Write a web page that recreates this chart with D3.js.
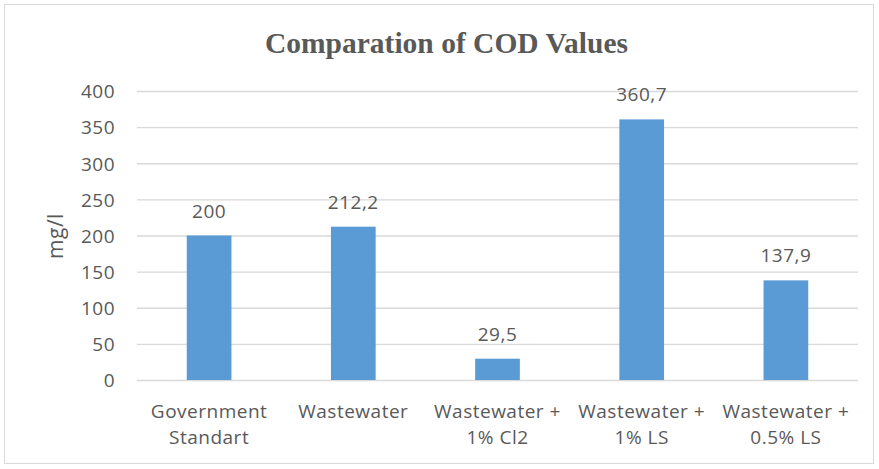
<!DOCTYPE html>
<html>
<head>
<meta charset="utf-8">
<script src="https://cdn.jsdelivr.net/npm/d3@7"></script>
<style>
  body { margin: 0; background: #fff; }
  svg text { font-family: "Open Sans", "Noto Sans", sans-serif; fill: #595959; letter-spacing: 0.5px; }
</style>
</head>
<body>
<svg width="879" height="469"></svg>
<script>
// chart data
var categories = [
  ["Government", "Standart"],
  ["Wastewater"],
  ["Wastewater +", "1% Cl2"],
  ["Wastewater +", "1% LS"],
  ["Wastewater +", "0.5% LS"]
];
var values = [200, 212.2, 29.5, 360.7, 137.9];
var valueLabels = ["200", "212,2", "29,5", "360,7", "137,9"];
var yTicks = [0, 50, 100, 150, 200, 250, 300, 350, 400];

var svg = d3.select("svg"),
  margin = {top: 91, right: 21, bottom: 89, left: 137},
  width = svg.attr("width") - margin.left - margin.right,
  height = svg.attr("height") - margin.top - margin.bottom;

// outer frame
svg.append("rect")
  .attr("x", 4.5).attr("y", 4.5)
  .attr("width", 869).attr("height", 459)
  .attr("fill", "#fff")
  .attr("stroke", "#d9d9d9");

var g = svg.append("g").attr("transform", "translate(" + margin.left + "," + margin.top + ")");

var x = d3.scaleBand().domain(d3.range(categories.length)).range([0, width]).paddingInner(0.69).paddingOuter(0.345),
  y = d3.scaleLinear().domain([0, 400]).range([height, 0]);

// grid lines
g.selectAll("line.grid")
  .data(yTicks)
  .enter().append("line")
  .attr("class", "grid")
  .attr("x1", 0).attr("x2", width)
  .attr("y1", d => y(d) + 0.5).attr("y2", d => y(d) + 0.5)
  .attr("stroke", "#d9d9d9")
  .attr("stroke-width", 1.3);

// y axis labels
var yAxis = g.append("g")
  .call(d3.axisLeft(y).tickValues(yTicks).tickSize(0).tickPadding(22));
yAxis.select(".domain").remove();
yAxis.selectAll("text")
  .style("font-size", "19px")
  .style("font-family", "'Open Sans', sans-serif")
  .attr("fill", "#595959")
  .attr("dy", "0.36em");

// bars
g.selectAll("rect.bar")
  .data(values)
  .enter().append("rect")
  .attr("class", "bar")
  .attr("x", (d, i) => x(i))
  .attr("width", x.bandwidth())
  .attr("y", d => y(d))
  .attr("height", d => height - y(d))
  .attr("fill", "#5b9bd5");

// value labels
g.selectAll("text.val")
  .data(values)
  .enter().append("text")
  .attr("class", "val")
  .attr("x", (d, i) => x(i) + x.bandwidth() / 2)
  .attr("y", d => y(d) - 18)
  .attr("text-anchor", "middle")
  .style("font-size", "19px")
  .text((d, i) => valueLabels[i]);

// category labels
var cat = g.selectAll("text.cat")
  .data(categories)
  .enter().append("text")
  .attr("class", "cat")
  .attr("x", (d, i) => x(i) + x.bandwidth() / 2)
  .attr("y", height + 38)
  .attr("text-anchor", "middle")
  .style("font-size", "19px");
cat.selectAll("tspan")
  .data(d => d)
  .enter().append("tspan")
  .attr("x", function() { return this.parentNode.getAttribute("x"); })
  .attr("dy", (d, i) => i ? 26 : 0)
  .text(d => d);

// axis title
svg.append("text")
  .attr("transform", "translate(63,236) rotate(-90)")
  .attr("text-anchor", "middle")
  .style("font-size", "21px")
  .text("mg/l");

// chart title
svg.append("text")
  .attr("x", 446.5)
  .attr("y", 53)
  .attr("text-anchor", "middle")
  .attr("textLength", 363)
  .attr("lengthAdjust", "spacingAndGlyphs")
  .style("font-family", "'Liberation Serif', 'Times New Roman', serif")
  .style("font-weight", "bold")
  .style("letter-spacing", "0px")
  .style("font-size", "29px")
  .text("Comparation of COD Values");
</script>
</body>
</html>
